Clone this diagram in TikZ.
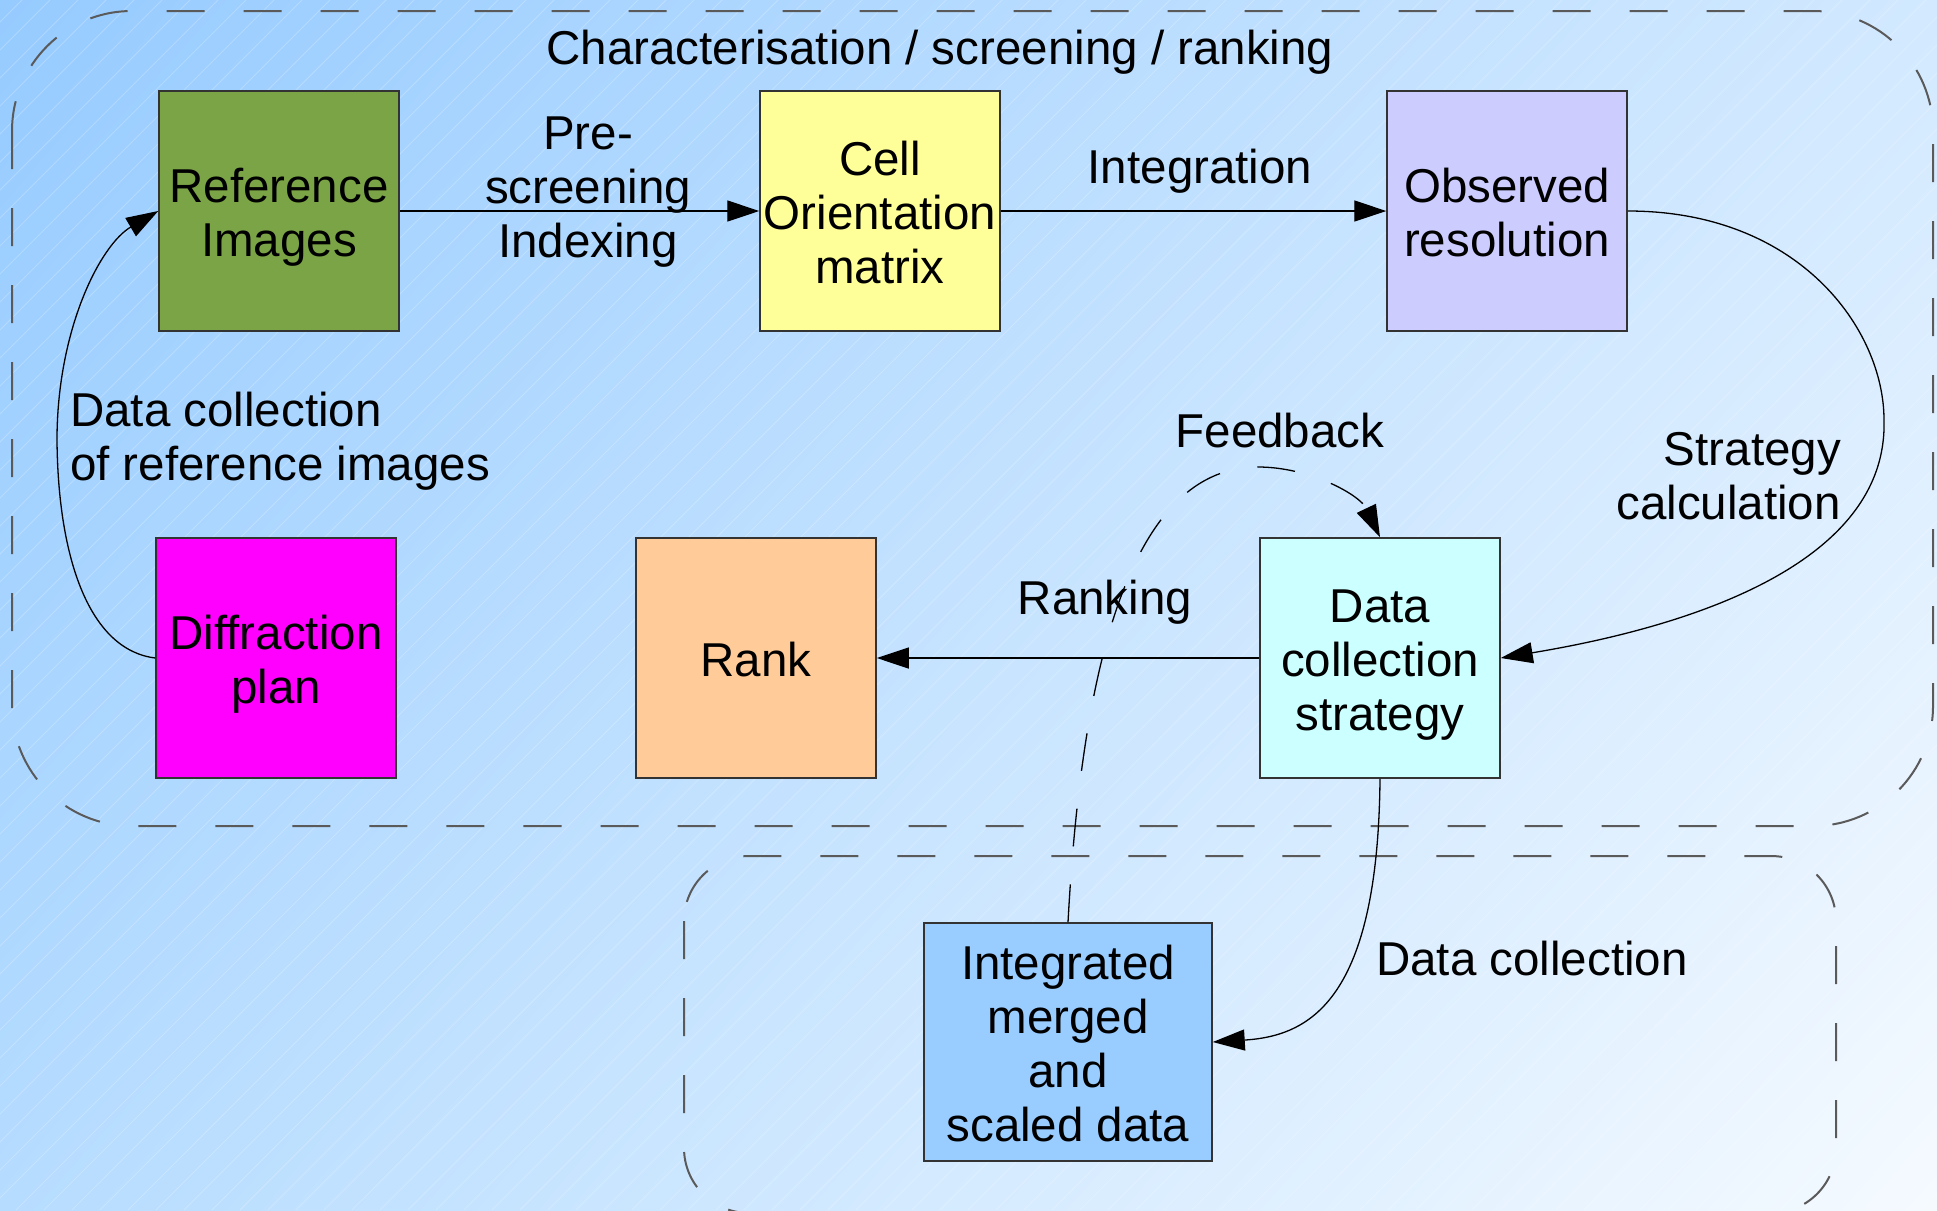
\documentclass[tikz,border=0pt]{standalone}
\usepackage{fontspec}
\setmainfont{Liberation Sans}
\usetikzlibrary{arrows.meta,shadings}
\definecolor{bgTL}{HTML}{96CBFF}
\definecolor{bgTR}{HTML}{D2E9FF}
\definecolor{bgBL}{HTML}{B6DCFF}
\definecolor{bgBR}{HTML}{F5FAFF}
\definecolor{grpline}{HTML}{5A5A5A}
\definecolor{boxline}{HTML}{333333}
\definecolor{cRef}{HTML}{7BA446}
\definecolor{cCell}{HTML}{FFFF99}
\definecolor{cObs}{HTML}{CCCCFF}
\definecolor{cDif}{HTML}{FF00FF}
\definecolor{cRank}{HTML}{FFCC99}
\definecolor{cDcs}{HTML}{CCFFFF}
\definecolor{cInt}{HTML}{99CCFF}
\newcommand\dfont{\fontsize{47.5}{54}\selectfont}
\newcommand\bt[1]{\raisebox{-7.5pt}[\height][\depth]{\begin{tabular}{@{}c@{}}#1\end{tabular}}}
\tikzset{
  box/.style={draw=boxline, line width=1.5pt, minimum width=240pt, minimum height=240pt, inner sep=0pt, font=\dfont},
  lbl/.style={inner sep=0pt, font=\dfont},
  grp/.style={draw=grpline, line width=2pt, dash pattern=on 38pt off 39pt},
  conn/.style={draw=black, line width=1.3pt, -{Triangle[length=32pt,width=21pt]}},
  fb/.style={conn, dash pattern=on 38pt off 38pt}
}
\begin{document}
\begin{tikzpicture}[x=1pt,y=-1pt]
\useasboundingbox (0,0) rectangle (1937,1210);
\begin{scope}
\clip (0,0) rectangle (1937,1210);
\shade[upper left=bgTL, upper right=bgTR, lower left=bgBL, lower right=bgBR] (0,0) rectangle (1937,1210);
\foreach \i in {-1300,-1272,...,1960} {
  \draw[white, opacity=0.22, line width=0.8pt] (\i,1210) -- ({\i+1210},0);
}
\draw[grp, rounded corners=120pt] (12,11) rectangle (1933,826);
\draw[grp, rounded corners=65pt] (684,856) rectangle (1836,1213);
\end{scope}

% boxes
\node[box, fill=cRef]  (ref)  at (279,211)  {\bt{Reference\\Images}};
\node[box, fill=cCell] (cell) at (880,211)  {\bt{Cell\\Orientation\\matrix}};
\node[box, fill=cObs]  (obs)  at (1507,211) {\bt{Observed\\resolution}};
\node[box, fill=cDif]  (dif)  at (276,658)  {\bt{Diffraction\\plan}};
\node[box, fill=cRank] (rank) at (756,658)  {\bt{Rank}};
\node[box, fill=cDcs]  (dcs)  at (1380,658) {\bt{Data\\collection\\strategy}};
\node[box, fill=cInt, minimum width=288pt, minimum height=238pt] (integ) at (1068,1042) {\bt{Integrated\\merged\\and\\scaled data}};

% labels
\node[lbl] (title) at (940,52) {Characterisation / screening / ranking};
\node[lbl, align=center] (prelab) at (588,192) {Pre-\\screening\\Indexing};
\node[lbl] (intlab) at (1200,171) {Integration};
\node[lbl, align=right, anchor=east] (stratlab) at (1841,476) {Strategy\\calculation};
\node[lbl] (ranklab) at (1105,602) {Ranking};
\node[lbl] (feedlab) at (1280,431) {Feedback};
\node[lbl, anchor=west] (dclab) at (1376,959) {Data collection};
\node[lbl, align=left, anchor=west] (dcrlab) at (70,441) {Data collection\\of reference images};

% connectors
\draw[conn] (ref.east) -- (cell.west);
\draw[conn] (cell.east) -- (obs.west);
\draw[conn] (dcs.west) -- (rank.east);
\draw[conn] (obs.east) .. controls (1800,211) and (1884,330) .. (1884,420)
                       .. controls (1888,560) and (1700,625) .. (dcs.east);
\draw[conn] (dif.west) .. controls (90,650) and (58,560) .. (57,440)
                       .. controls (57,330) and (100,245) .. (ref.west);
\draw[conn] (dcs.south) .. controls (1378,1000) and (1310,1036) .. (integ.east);
\draw[fb] (integ.north) .. controls (1080,700) and (1120,467) .. (1258,467)
                        .. controls (1310,467) and (1360,495) .. (dcs.north);
\end{tikzpicture}
\end{document}
